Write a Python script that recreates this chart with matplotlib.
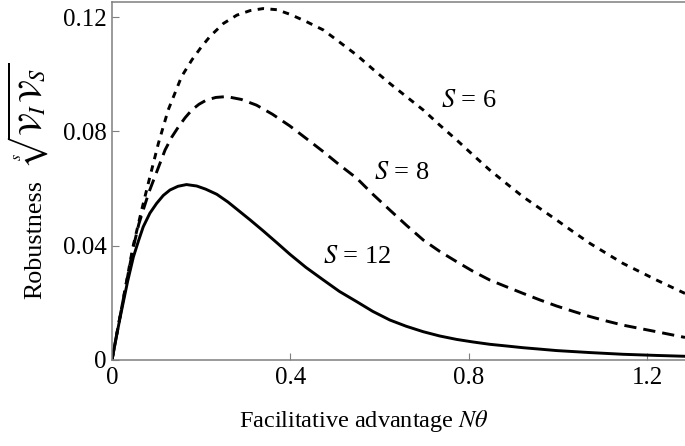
import matplotlib
matplotlib.use("Agg")
import matplotlib.pyplot as plt

plt.rcParams['font.family'] = ['Liberation Serif', 'DejaVu Serif']
plt.rcParams['mathtext.fontset'] = 'stix'

# ---- data ----
x_s12 = [0, 0.01, 0.018, 0.025, 0.035, 0.048, 0.06, 0.07, 0.085, 0.1, 0.115, 0.13, 0.148, 0.167,
         0.19, 0.21, 0.235, 0.26, 0.287, 0.31, 0.339, 0.37, 0.399, 0.435, 0.474, 0.51, 0.549,
         0.585, 0.623, 0.66, 0.698, 0.735, 0.773, 0.81, 0.847, 0.885, 0.922, 0.96, 0.997, 1.072,
         1.146, 1.221, 1.285]
y_s12 = [0, 0.0083, 0.0147, 0.0200, 0.0275, 0.0361, 0.0420, 0.0466, 0.0514, 0.0548, 0.0576, 0.0595,
         0.0608, 0.0614, 0.0609, 0.0598, 0.0580, 0.0553, 0.0519, 0.0490, 0.0452, 0.0410, 0.0370,
         0.0324, 0.0280, 0.0240, 0.0204, 0.0170, 0.0140, 0.0118, 0.0099, 0.0084, 0.0072, 0.0063,
         0.0055, 0.0049, 0.0043, 0.0038, 0.0033, 0.0026, 0.0020, 0.0016, 0.0013]

x_s8 = [0, 0.01, 0.018, 0.025, 0.035, 0.048, 0.06, 0.07, 0.083, 0.096, 0.108, 0.119, 0.134, 0.149,
        0.164, 0.179, 0.195, 0.212, 0.233, 0.257, 0.29, 0.324, 0.36, 0.399, 0.435, 0.474, 0.51,
        0.549, 0.585, 0.623, 0.66, 0.698, 0.735, 0.773, 0.81, 0.847, 0.885, 0.922, 0.96, 0.997,
        1.035, 1.072, 1.11, 1.146, 1.185, 1.221, 1.285]
y_s8 = [0, 0.0085, 0.0152, 0.0210, 0.0292, 0.0396, 0.0475, 0.0525, 0.0588, 0.0641, 0.0690, 0.0735,
        0.0780, 0.0816, 0.0848, 0.0875, 0.0895, 0.0910, 0.0919, 0.0922, 0.0912, 0.0892, 0.0860,
        0.0819, 0.0776, 0.0729, 0.0683, 0.0636, 0.0580, 0.0525, 0.0472, 0.0420, 0.0380, 0.0344,
        0.0310, 0.0280, 0.0256, 0.0233, 0.0210, 0.0189, 0.0170, 0.0152, 0.0136, 0.0122, 0.0110,
        0.0099, 0.0079]

x_s6 = [0, 0.01, 0.018, 0.025, 0.035, 0.047, 0.0665, 0.085, 0.104, 0.126, 0.156, 0.179, 0.2, 0.22,
        0.25, 0.28, 0.31, 0.339, 0.37, 0.399, 0.435, 0.474, 0.51, 0.549, 0.585, 0.623, 0.66,
        0.698, 0.735, 0.773, 0.81, 0.847, 0.885, 0.922, 0.96, 0.997, 1.035, 1.072, 1.11, 1.146,
        1.185, 1.221, 1.285]
y_s6 = [0, 0.0085, 0.0152, 0.0211, 0.0295, 0.0396, 0.0525, 0.0641, 0.0758, 0.0875, 0.0992, 0.1050,
        0.1095, 0.1133, 0.1178, 0.1207, 0.1223, 0.1230, 0.1226, 0.1210, 0.1185, 0.1155, 0.1113,
        0.1067, 0.1018, 0.0968, 0.0922, 0.0875, 0.0822, 0.0770, 0.0717, 0.0665, 0.0617, 0.0571,
        0.0530, 0.0490, 0.0448, 0.0408, 0.0372, 0.0338, 0.0308, 0.0280, 0.0233]

labels = [r'$S$ = 6', r'$S$ = 8', r'$S$ = 12']
label_pos = [(0.800, 0.0906), (0.649, 0.0656), (0.550, 0.0359)]

x_ticks = [0, 0.4, 0.8, 1.2]
x_ticklabels = ['0', '0.4', '0.8', '1.2']
y_ticks = [0, 0.04, 0.08, 0.12]
y_ticklabels = ['0', '0.04', '0.08', '0.12']

ylabel_word = 'Robustness'
ylabel_math = r'$\sqrt[s]{\mathcal{V}_I\,\mathcal{V}_S}$'
xlabel = r'Facilitative advantage $N\theta$'

# ---- figure ----
W, H = 685, 446
fig = plt.figure(figsize=(W / 100, H / 100), dpi=100)
ax = fig.add_axes([112 / W, 86 / H, 1 - 112 / W, 358 / H])

lw = 2.1
ax.plot(x_s6, y_s6, color='black', lw=lw, dashes=(2.2, 2.2), dash_capstyle='butt')
ax.plot(x_s8, y_s8, color='black', lw=lw, dashes=(4.2, 2.4), dash_capstyle='butt')
ax.plot(x_s12, y_s12, color='black', lw=lw, solid_capstyle='round')

for txt, (tx, ty) in zip(labels, label_pos):
    ax.text(tx, ty, txt, fontsize=19, ha='center', va='center')

ax.set_xlim(0, 1.285)
ax.set_ylim(0, 0.1253)
ax.set_xticks(x_ticks)
ax.set_xticklabels(x_ticklabels)
ax.set_yticks(y_ticks)
ax.set_yticklabels(y_ticklabels)

gray = '#7f7f7f'
for side in ['left', 'bottom', 'top']:
    ax.spines[side].set_color(gray)
    ax.spines[side].set_linewidth(1.1)
ax.spines['right'].set_visible(False)
ax.tick_params(direction='in', length=5, width=0.8, color=gray, labelsize=18, top=False, right=False)
ax.tick_params(axis='x', pad=5)
ax.tick_params(axis='y', pad=4)

ax.set_xlabel(xlabel, fontsize=17.5)
ax.xaxis.set_label_coords((364 - 112) / (685 - 112), -(408 - 360) / 358)

# y label: word and radical as two rotated texts, sized to the reference extents
t_word = fig.text(41 / W, 1 - 299 / H, ylabel_word, rotation=90, rotation_mode='anchor',
                  ha='left', va='baseline', fontsize=19)
t_math = fig.text(41 / W, 1 - 166 / H, ylabel_math, rotation=90, rotation_mode='anchor',
                  ha='left', va='baseline', fontsize=20)
fig.canvas.draw()
r = fig.canvas.get_renderer()
h_word = t_word.get_window_extent(r).height
t_word.set_fontsize(19 * 119 / h_word)
h_math = t_math.get_window_extent(r).height
t_math.set_fontsize(20 * 104 / h_math)

fig.savefig('out.png', dpi=100)
